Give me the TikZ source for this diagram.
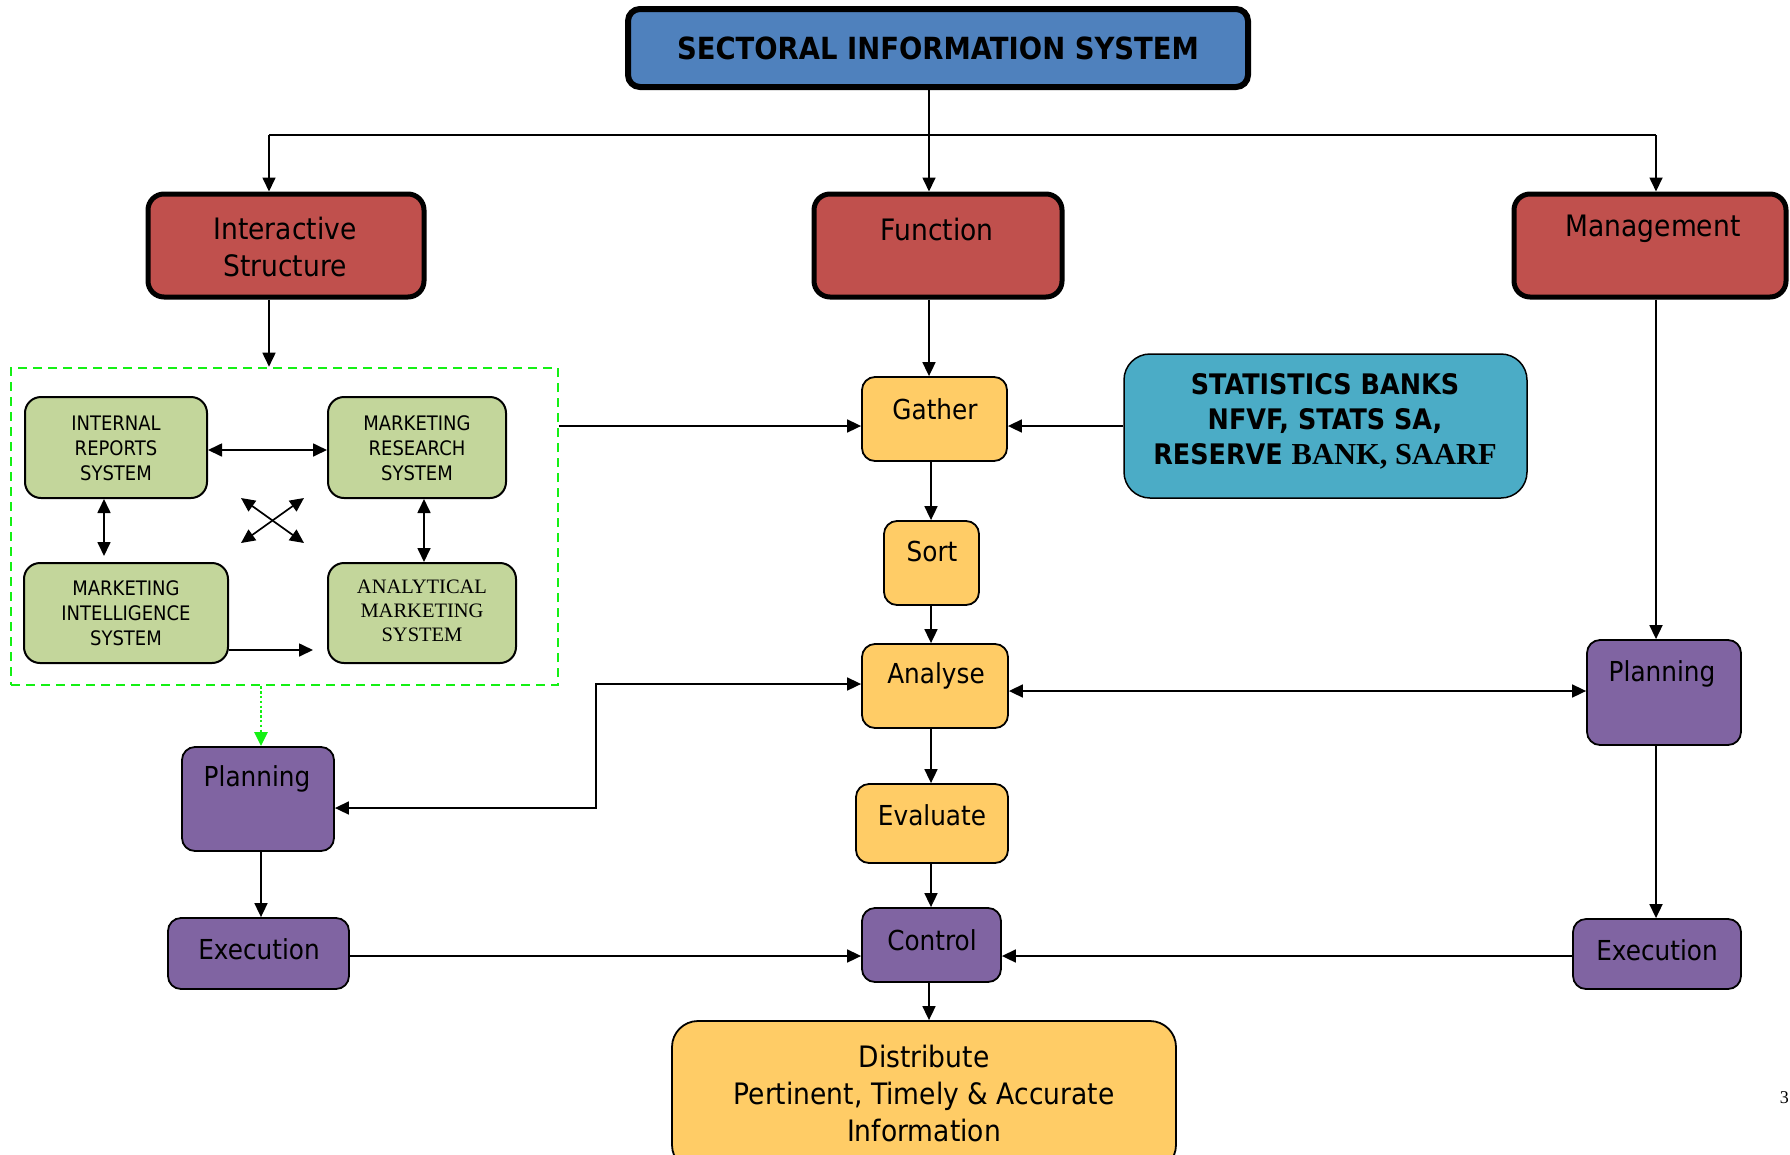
\documentclass[tikz,border=0pt]{standalone}
\usepackage{fontspec}
\setmainfont{DejaVu Sans}[FakeStretch=0.9]
\newfontfamily\tms{Liberation Serif}
\usetikzlibrary{arrows.meta}
\definecolor{tblue}{HTML}{4F81BD}
\definecolor{tred}{HTML}{C0504D}
\definecolor{tyel}{HTML}{FFCC66}
\definecolor{tteal}{HTML}{4BACC6}
\definecolor{tpur}{HTML}{8064A2}
\definecolor{tgrn}{HTML}{C3D69B}
\definecolor{dgreen}{RGB}{20,240,20}
\tikzset{
  sz/.style 2 args={minimum width=#1pt, minimum height=#2pt},
  box/.style={draw=black, inner sep=0pt, rounded corners=13pt},
  titlebox/.style={box, fill=tblue, line width=6pt, rounded corners=12pt, font=\bfseries\fontsize{30.5}{36}\selectfont},
  redbox/.style={box, fill=tred, line width=5pt, rounded corners=16pt},
  ybox/.style={box, fill=tyel, line width=1.8pt},
  pbox/.style={box, fill=tpur, line width=1.8pt},
  gbox/.style={box, fill=tgrn, line width=2pt, rounded corners=16pt},
  sbox/.style={box, fill=tteal, line width=1.5pt, rounded corners=26pt},
  grpbox/.style={draw=dgreen, line width=2.6pt, dash pattern=on 9pt off 6pt, inner sep=0pt},
  rt/.style={inner sep=0pt, align=center, font=\fontsize{29.5}{37}\selectfont},
  yt/.style={inner sep=0pt, align=center, font=\fontsize{27.5}{36.5}\selectfont},
  gt/.style={inner sep=0pt, align=center, font=\fontsize{20}{25}\selectfont},
  st/.style={inner sep=0pt, align=center, font=\bfseries\fontsize{28.3}{35}\selectfont},
  ah/.tip={Triangle[length=14pt,width=13pt]},
  line/.style={line width=1.7pt, draw=black},
  conn/.style={line, -ah},
  dconn/.style={line, ah-ah},
  gconn/.style={line width=2.4pt, draw=dgreen, dash pattern=on 2.4pt off 2.4pt, -{Triangle[length=14pt,width=13pt]}, color=dgreen}
}
\begin{document}
\begin{tikzpicture}[x=1pt,y=-1pt]
\useasboundingbox (0,0) rectangle (1790,1154);

% title and top level
\node[titlebox, sz={620}{78}] (title) at (938,48) {SECTORAL INFORMATION SYSTEM};
\node[redbox, sz={276}{103}] (is) at (286,245.5) {};
\node[rt] (is-t) at (285,247) {Interactive\\Structure};
\node[redbox, sz={248}{103}] (fun) at (938,245.5) {};
\node[rt] (fun-t) at (937,229) {Function};
\node[redbox, sz={272}{103}] (mgmt) at (1650,245.5) {};
\node[rt] (mgmt-t) at (1653,229) {Management};

% green group
\node[grpbox, sz={547}{317}] (grp) at (284.5,526.5) {};
\node[gbox, sz={182}{101}] (irs) at (116,447.5) {};
\node[gt] (irs-t) at (116,448) {INTERNAL\\REPORTS\\SYSTEM};
\node[gbox, sz={178}{101}] (mrs) at (417,447.5) {};
\node[gt] (mrs-t) at (417,448) {MARKETING\\RESEARCH\\SYSTEM};
\node[gbox, sz={204}{100}] (mis) at (126,613) {};
\node[gt] (mis-t) at (126,613) {MARKETING\\INTELLIGENCE\\SYSTEM};
\node[gbox, sz={188}{100}] (ams) at (422,613) {};
\node[gt, font=\tms\fontsize{20.5}{24}\selectfont] (ams-t) at (422,611) {ANALYTICAL\\MARKETING\\SYSTEM};

% centre column
\node[ybox, sz={145}{84}] (gather) at (934.5,419) {};
\node[yt] (gather-t) at (935,409) {Gather};
\node[ybox, sz={95}{84}] (sort) at (931.5,563) {};
\node[yt] (sort-t) at (932,551) {Sort};
\node[ybox, sz={146}{84}] (analyse) at (935,686) {};
\node[yt] (analyse-t) at (936,676) {Analyse};
\node[ybox, sz={152}{79}] (evaluate) at (932,823.5) {};
\node[yt] (evaluate-t) at (932,815) {Evaluate};
\node[pbox, sz={139}{74}] (control) at (931.5,945) {};
\node[yt] (control-t) at (932,940) {Control};
\node[ybox, sz={504}{150}, rounded corners=26pt] (dist) at (924,1096) {};
\node[yt, font=\fontsize{29.5}{37}\selectfont] (dist-t) at (924,1093) {Distribute\\Pertinent, Timely \& Accurate\\Information};

% statistics
\node[sbox, sz={403}{144}] (stat) at (1325.5,426) {};
\node[st] (stat-t) at (1325,421) {STATISTICS BANKS\\NFVF, STATS SA,\\RESERVE {\tms\bfseries\fontsize{30.5}{35}\selectfont BANK, SAARF}};

% purple boxes
\node[pbox, sz={152}{104}] (planL) at (258,799) {};
\node[yt] (planL-t) at (257,779) {Planning};
\node[pbox, sz={181}{71}] (execL) at (258.5,953.5) {};
\node[yt] (execL-t) at (259,949) {Execution};
\node[pbox, sz={154}{105}] (planR) at (1664,692.5) {};
\node[yt] (planR-t) at (1662,674) {Planning};
\node[pbox, sz={168}{70}] (execR) at (1657,954) {};
\node[yt] (execR-t) at (1657,950) {Execution};

% page number at the edge
\node[inner sep=0pt, anchor=east, font=\tms\fontsize{18}{18}\selectfont] (pg) at (1789,1098) {3};

% helper coordinates
\coordinate (cL) at (269,135);
\coordinate (cM) at (929,135);
\coordinate (cR) at (1656,135);
\coordinate (cC) at (931,0);
\coordinate (cP) at (261,0);
\coordinate (cIR) at (104,0);
\coordinate (cMR) at (424,0);
\coordinate (yG) at (0,426);
\coordinate (yA) at (0,691);
\coordinate (yX) at (0,956);
\coordinate (yIM) at (0,450);
\coordinate (yMA) at (0,650);
\coordinate (kneeT) at (596,684);
\coordinate (kneeB) at (596,808);
\coordinate (xa) at (241,498);
\coordinate (xb) at (304,543);
\coordinate (xc) at (241,543);
\coordinate (xd) at (304,498);

% connectors
\draw[line] (title.south -| cM) -- (cM);
\draw[line] (cL) -- (cR);
\draw[conn] (cL) -- (is.north -| cL);
\draw[conn] (cM) -- (fun.north -| cM);
\draw[conn] (cR) -- (mgmt.north -| cR);

\draw[conn] (is.south -| cL) -- (grp.north -| cL);
\draw[conn] (grp.east |- yG) -- (gather.west |- yG);
\draw[conn] (stat.west |- yG) -- (gather.east |- yG);
\draw[conn] (fun.south -| cM) -- (gather.north -| cM);
\draw[conn] (gather.south -| cC) -- (sort.north -| cC);
\draw[conn] (sort.south -| cC) -- (analyse.north -| cC);
\draw[conn] (analyse.south -| cC) -- (evaluate.north -| cC);
\draw[conn] (evaluate.south -| cC) -- (control.north -| cC);
\draw[conn] (control.south -| cM) -- (dist.north -| cM);

\draw[dconn] (analyse.east |- yA) -- (planR.west |- yA);
\draw[conn] (mgmt.south -| cR) -- (planR.north -| cR);
\draw[conn] (planR.south -| cR) -- (execR.north -| cR);
\draw[conn] (execR.west |- yX) -- (control.east |- yX);
\draw[conn] (execL.east |- yX) -- (control.west |- yX);
\draw[conn] (planL.south -| cP) -- (execL.north -| cP);
\draw[gconn] (grp.south -| cP) -- (planL.north -| cP);
\draw[dconn] (planL.east |- kneeB) -- (kneeB) -- (kneeT) -- (analyse.west |- kneeT);

% inside the group
\draw[dconn] (irs.east |- yIM) -- (mrs.west |- yIM);
\draw[dconn, shorten >=6pt] (irs.south -| cIR) -- (mis.north -| cIR);
\draw[dconn] (mrs.south -| cMR) -- (ams.north -| cMR);
\draw[conn, shorten >=14pt] (mis.east |- yMA) -- (ams.west |- yMA);
\draw[dconn] (xa) -- (xb);
\draw[dconn] (xc) -- (xd);
\end{tikzpicture}
\end{document}
